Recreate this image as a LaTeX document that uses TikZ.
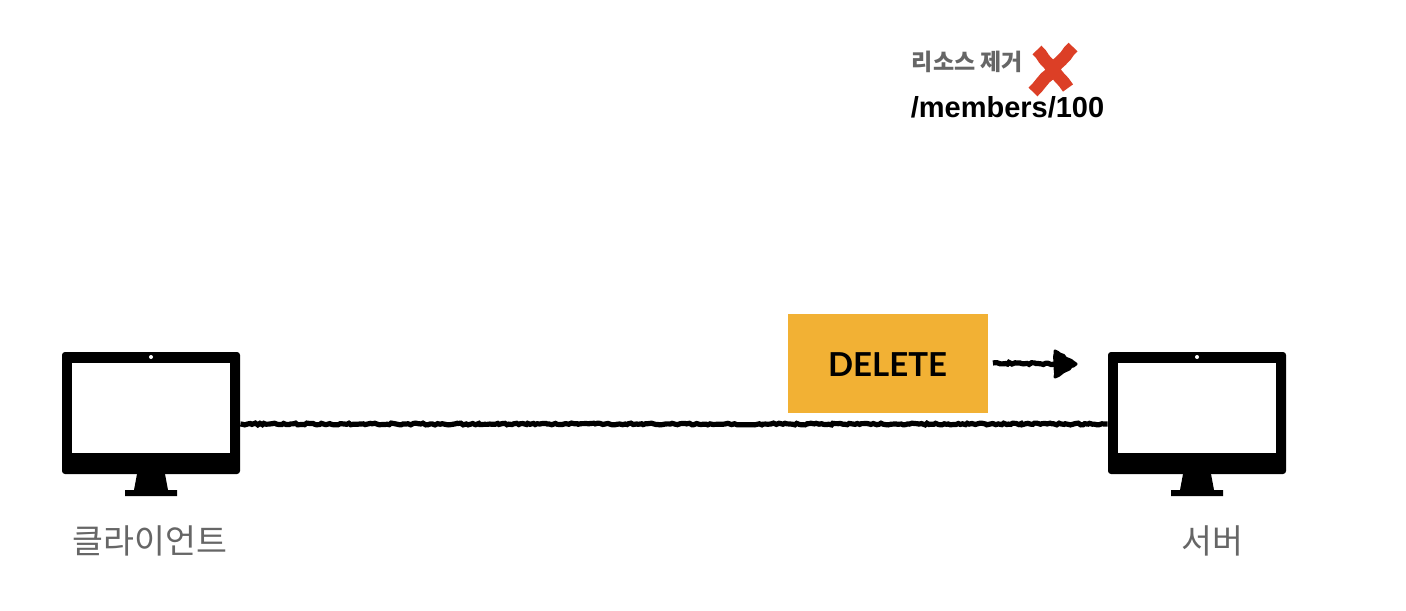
\documentclass[tikz,border=0pt]{standalone}
\usepackage{xcolor}
\usepackage{fontspec}
\setmainfont{Liberation Sans}
\newfontfamily\krfont{Noto Sans CJK KR}
\newfontfamily\latofont{Lato}
\usetikzlibrary{decorations.pathmorphing}
\definecolor{boxorange}{HTML}{F2B134}
\definecolor{crossred}{HTML}{DC3F26}
\definecolor{labelgray}{HTML}{666666}
\tikzset{
  rough/.style={line width=2.6pt, black, decorate, decoration={random steps, segment length=1.2pt, amplitude=0.45pt}},
  roughred/.style={line width=6.2pt, crossred, decorate, decoration={random steps, segment length=3pt, amplitude=0.3pt}},
  pclabel/.style={text=labelgray, font=\krfont\fontsize{16.8}{19}\selectfont}
}
\begin{document}
\begin{tikzpicture}[x=0.5pt, y=-0.5pt]
      \useasboundingbox (0,0) rectangle (1406,610);

      % monitors
      \foreach \x/\name in {0/client, 1046/server} {
        \node[fill=black, rounded corners=1.5pt, inner sep=0pt, minimum width=89pt, minimum height=61pt] (\name box) at (151+\x,413) {};
        \fill[white] (72+\x,363) rectangle (230+\x,453);
        \fill[white] (151+\x,357) circle (1pt);
        \fill[black] (137+\x,474) -- (165+\x,474) -- (168+\x,490) -- (177+\x,490) -- (177+\x,496) -- (125+\x,496) -- (125+\x,490) -- (134+\x,490) -- cycle;
      }
      \node[pclabel] (clientlabel) at (150,541) {클라이언트};
      \node[pclabel] (serverlabel) at (1212,541) {서버};

      \node[fill=boxorange, inner sep=0pt, minimum width=100pt, minimum height=49.5pt] (deletebox) at (887.5,363) {};
      \node[font=\latofont\bfseries\fontsize{16.5}{18}\selectfont] (deletetext) at (887.5,365) {DELETE};

      \draw[rough] ([yshift=-5.5pt]clientbox.east) -- ([yshift=-5.5pt]serverbox.west);

      % arrow beside the box
      \coordinate (arrowend) at (1062,364);
      \draw[rough] ([xshift=2.5pt]deletebox.east) -- (arrowend);
      \fill[black, draw=black, line width=1.5pt, line join=round, decorate, decoration={random steps, segment length=1.5pt, amplitude=0.4pt}] (1055,351) -- (1076,364) -- (1055,377) -- cycle;

      \node[font=\krfont\bfseries\fontsize{11.5}{14}\selectfont, text=labelgray] (removelabel) at (967.5,62) {리소스 제거};
      \node[font=\bfseries\fontsize{14.5}{17}\selectfont, text=black] (pathlabel) at (1007.5,107) {/members/100};

      \draw[roughred] (1037,50) -- (1068,88);
      \draw[roughred] (1073,47) -- (1033,92);
    \end{tikzpicture}
\end{document}
